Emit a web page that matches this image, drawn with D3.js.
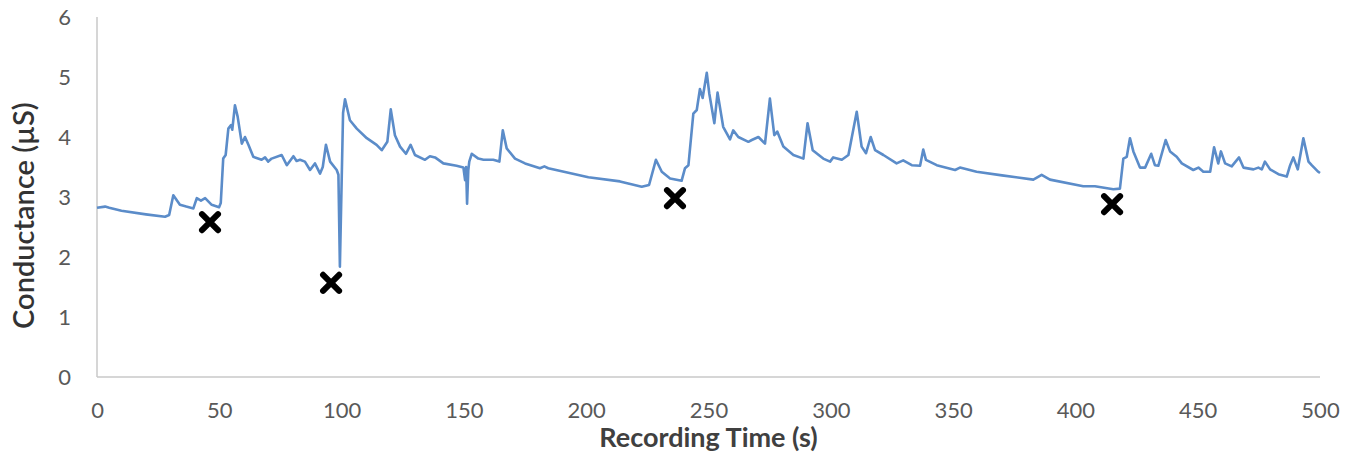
<!DOCTYPE html>
<html>
<head>
<meta charset="utf-8">
<script src="https://cdn.jsdelivr.net/npm/d3@7"></script>
<style>
  html, body { margin: 0; padding: 0; background: #fff; }
  svg { display: block; }
</style>
</head>
<body>
<svg id="chart" width="1346" height="454"></svg>
<script>
// ---- data ----
const timeS = [0, 3.3, 5, 10, 20, 27.8, 29.5, 31.2, 33.9, 36.5, 39.4, 40.8, 42.5, 44.2, 46.9, 49.9, 50.6, 51.6, 52.6, 53.7, 54.8, 55.3, 56.4, 57.5, 59.2, 60.5, 61.9, 63.9, 67.3, 68.7, 70.0, 71.4, 75.5, 77.6, 80.3, 81.6, 83.0, 85.0, 87.1, 89.1, 91.2, 92.3, 93.6, 95.3, 98.0, 98.7, 99.3, 100.6, 101.4, 103.4, 106.2, 110.3, 114.3, 116.4, 118.7, 120.1, 121.8, 123.9, 126.3, 128.2, 130.0, 134.1, 136.1, 138.2, 141.6, 147.0, 149.8, 150.5, 150.9, 151.3, 151.8, 152.2, 153.2, 155.9, 158, 162, 164.5, 165.9, 167.5, 170.9, 175.0, 181.1, 182.9, 184.5, 200.9, 213.8, 222.7, 225.7, 228.5, 230.9, 234.3, 239.0, 240.4, 241.8, 243.8, 245.2, 246.5, 247.6, 249.3, 250.3, 252.4, 253.7, 256.0, 258.8, 260.1, 262.2, 266.3, 267.7, 270.4, 273.1, 275.1, 276.9, 278.1, 280.6, 284.7, 288.8, 290.5, 292.6, 296.9, 299.7, 301.0, 304.5, 307.2, 310.6, 312.6, 314.4, 316.3, 318.1, 321.5, 326.9, 329.6, 333.1, 336.5, 337.8, 338.9, 343.3, 350.8, 352.8, 359.6, 370, 382.8, 386.2, 389.6, 403.2, 408.0, 415.5, 418.2, 419.6, 421.0, 422.3, 423.7, 426.4, 428.5, 431.0, 432.5, 433.9, 436.9, 438.7, 441.4, 443.5, 448.2, 450.3, 452.3, 455.1, 456.7, 458.4, 459.5, 461.2, 463.9, 466.9, 468.7, 472.8, 474.8, 476.2, 477.5, 479.6, 483.0, 486.4, 487.8, 489.1, 490.9, 493.2, 495.3, 496.6, 499.3, 500];
const conductance = [2.82, 2.84, 2.82, 2.77, 2.71, 2.67, 2.70, 3.03, 2.87, 2.84, 2.81, 2.98, 2.94, 2.98, 2.87, 2.83, 2.90, 3.64, 3.70, 4.14, 4.20, 4.12, 4.53, 4.34, 3.89, 4.00, 3.87, 3.67, 3.62, 3.66, 3.59, 3.64, 3.70, 3.53, 3.68, 3.60, 3.62, 3.59, 3.45, 3.56, 3.39, 3.50, 3.87, 3.59, 3.45, 3.37, 1.84, 4.40, 4.63, 4.28, 4.14, 3.98, 3.87, 3.78, 3.92, 4.46, 4.03, 3.84, 3.72, 3.87, 3.70, 3.62, 3.68, 3.66, 3.56, 3.52, 3.49, 3.28, 3.50, 2.89, 3.45, 3.59, 3.72, 3.64, 3.62, 3.62, 3.59, 4.11, 3.81, 3.64, 3.56, 3.48, 3.51, 3.48, 3.33, 3.26, 3.17, 3.20, 3.62, 3.42, 3.31, 3.27, 3.48, 3.53, 4.39, 4.45, 4.80, 4.65, 5.07, 4.73, 4.23, 4.74, 4.17, 3.96, 4.11, 4.00, 3.92, 3.95, 4.00, 3.89, 4.64, 4.03, 4.09, 3.84, 3.70, 3.64, 4.23, 3.78, 3.64, 3.59, 3.66, 3.62, 3.70, 4.42, 3.84, 3.73, 4.00, 3.78, 3.70, 3.56, 3.61, 3.53, 3.52, 3.79, 3.62, 3.53, 3.45, 3.49, 3.42, 3.36, 3.29, 3.37, 3.29, 3.18, 3.18, 3.13, 3.14, 3.64, 3.67, 3.98, 3.76, 3.49, 3.49, 3.72, 3.53, 3.52, 3.95, 3.76, 3.67, 3.56, 3.45, 3.49, 3.42, 3.42, 3.83, 3.56, 3.76, 3.56, 3.51, 3.66, 3.49, 3.46, 3.49, 3.46, 3.59, 3.46, 3.38, 3.34, 3.53, 3.66, 3.46, 3.98, 3.59, 3.53, 3.42, 3.40];
const markerTime = [46.2, 95.7, 236.3, 415.0];
const markerValue = [2.58, 1.57, 2.98, 2.88];
const xTicks = [0, 50, 100, 150, 200, 250, 300, 350, 400, 450, 500];
const yTicks = [0, 1, 2, 3, 4, 5, 6];
const xTitle = "Recording Time (s)";
const yTitle = "Conductance (µS)";

// ---- layout ----
const W = 1346, H = 454;
const margin = { left: 97, right: 26, top: 17, bottom: 77 };
const svg = d3.select("#chart");
const font = "Lato, 'Open Sans', sans-serif";

const x = d3.scaleLinear().domain([0, 500]).range([margin.left, W - margin.right]);
const y = d3.scaleLinear().domain([0, 6]).range([H - margin.bottom, margin.top]);

// axes
const xAxis = d3.axisBottom(x).tickValues(xTicks).tickSize(0).tickPadding(25).tickFormat(d3.format("d"));
const yAxis = d3.axisLeft(y).tickValues(yTicks).tickSize(0).tickPadding(26).tickFormat(d3.format("d"));

const gx = svg.append("g").attr("transform", `translate(0,${y(0)})`).call(xAxis);
const gy = svg.append("g").attr("transform", `translate(${x(0)},0)`).call(yAxis);

[gx, gy].forEach(g => {
  g.select(".domain").attr("stroke", "#c8c8c8").attr("stroke-width", 1.5);
  g.selectAll(".tick text")
    .attr("fill", "#595959")
    .style("font-family", font)
    .style("font-size", "22px");
});
gy.select(".domain").attr("d", `M0,${y(6)}V${y(0)}`);
gx.select(".domain").attr("d", `M${x(0)},0H${x(500)}`);

// line
const data = timeS.map((t, i) => ({ t, v: conductance[i] }));
const line = d3.line().x(d => x(d.t)).y(d => y(d.v));
svg.append("path")
  .datum(data)
  .attr("fill", "none")
  .attr("stroke", "#5b8cc9")
  .attr("stroke-width", 2.6)
  .attr("stroke-linejoin", "round")
  .attr("d", line);

// markers
const sym = d3.symbol().type(d3.symbolTimes).size(170);
svg.append("g").selectAll("path")
  .data(markerTime.map((t, i) => ({ t, v: markerValue[i] })))
  .join("path")
  .attr("transform", d => `translate(${x(d.t)},${y(d.v)})`)
  .attr("d", sym)
  .attr("fill", "none")
  .attr("stroke", "#000")
  .attr("stroke-width", 6)
  .attr("stroke-linecap", "round");

// titles
svg.append("text")
  .attr("x", (x(0) + x(500)) / 2)
  .attr("y", 447)
  .attr("text-anchor", "middle")
  .attr("fill", "#404040")
  .style("font-family", font)
  .style("font-weight", "bold")
  .style("font-size", "27px")
  .text(xTitle);

svg.append("text")
  .attr("transform", `translate(34,${y(2.69)}) rotate(-90)`)
  .attr("text-anchor", "middle")
  .attr("fill", "#333")
  .style("font-family", font)
  .style("font-weight", 600)
  .style("font-size", "29px")
  .text(yTitle);
</script>
</body>
</html>
